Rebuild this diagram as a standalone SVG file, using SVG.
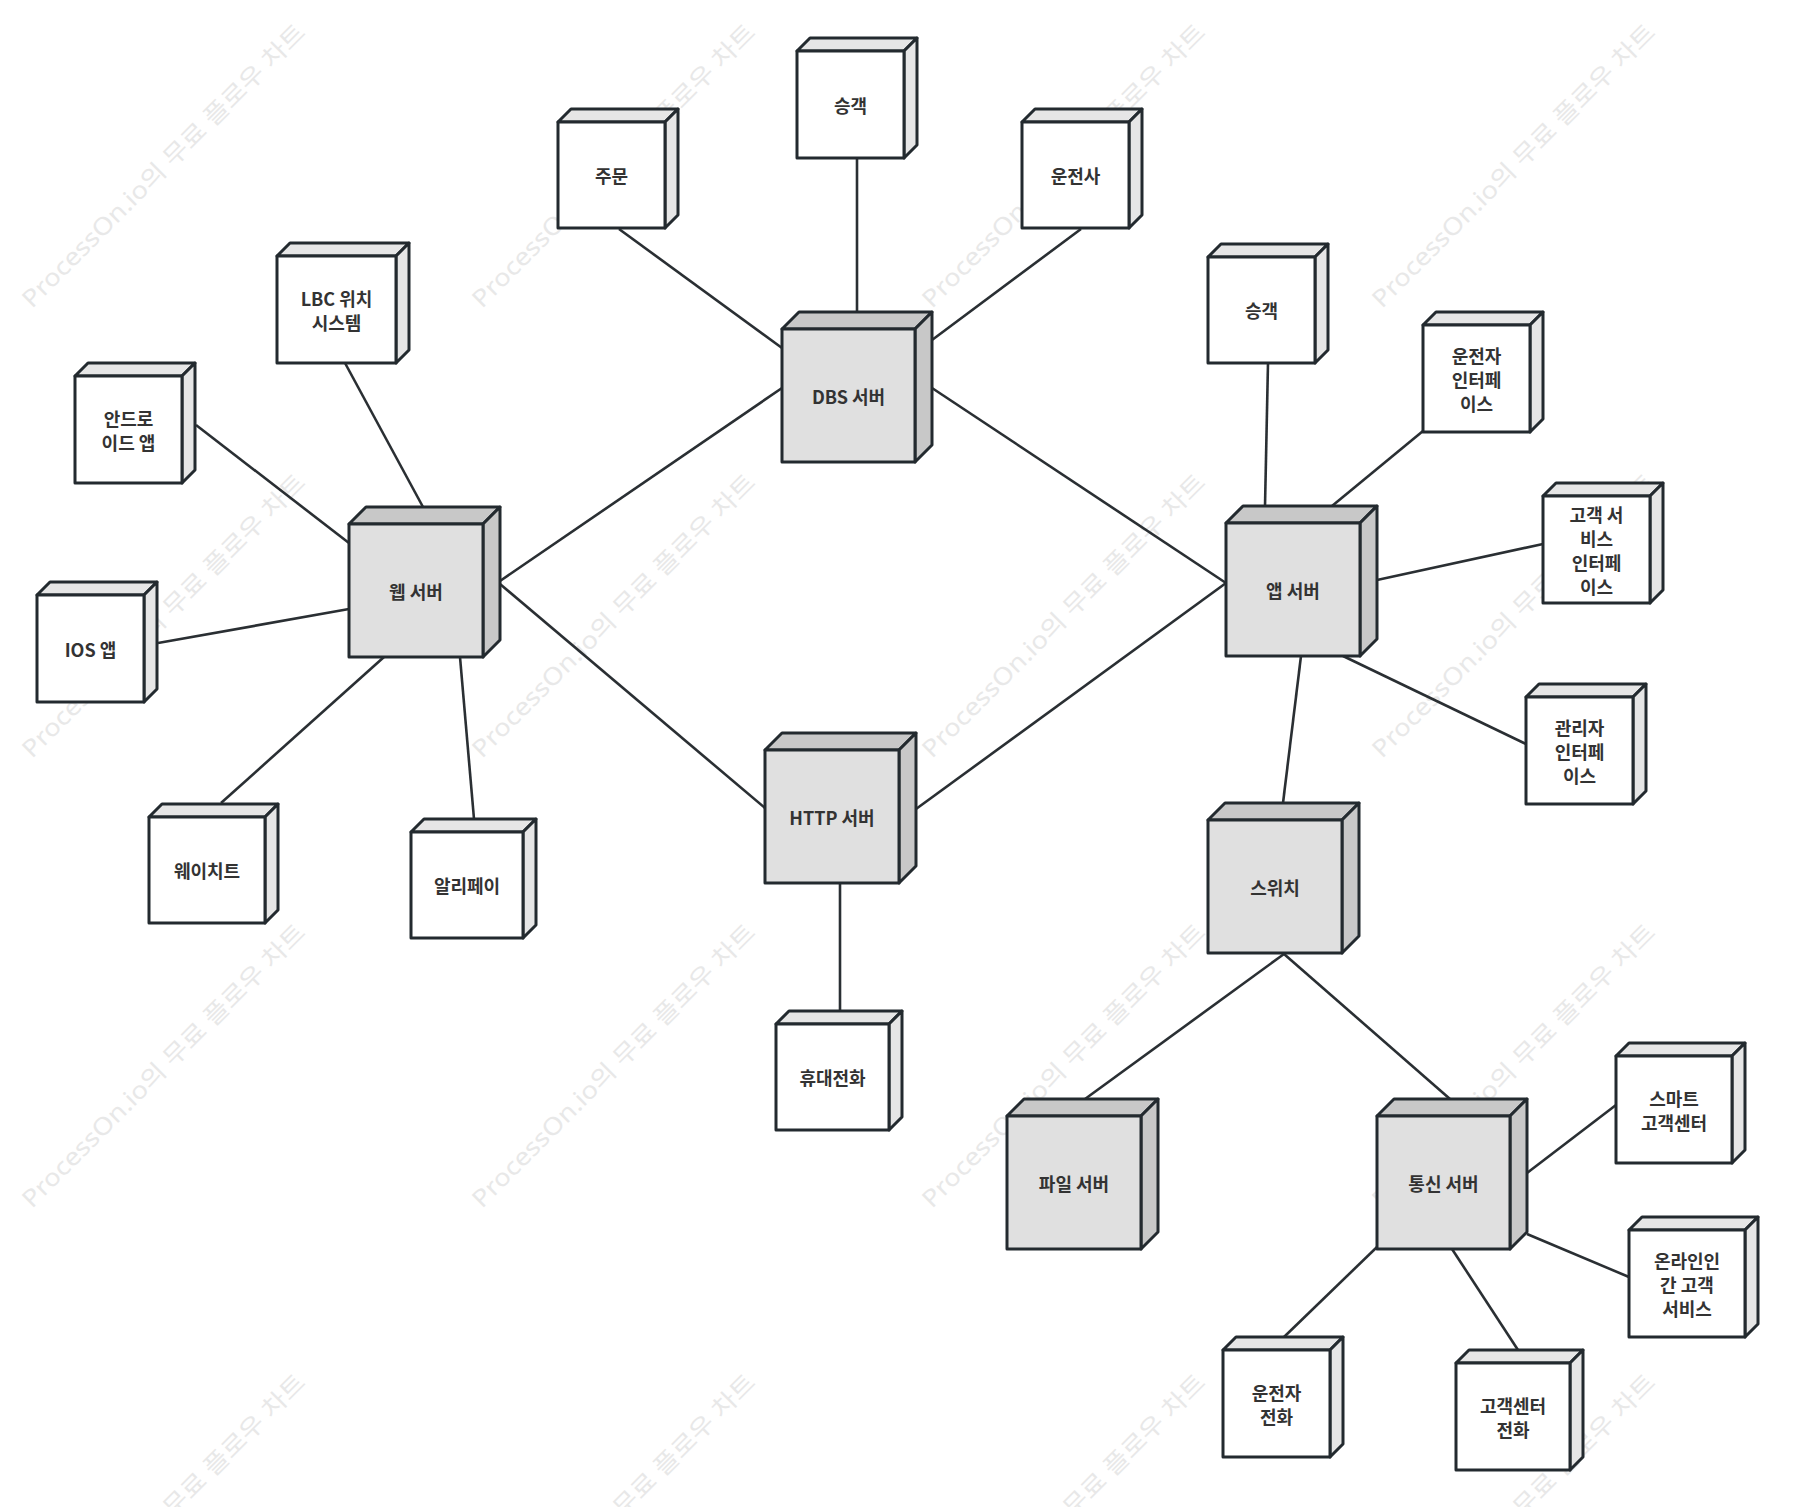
<svg xmlns="http://www.w3.org/2000/svg" width="1796" height="1507" viewBox="0 0 1796 1507">
<style>
.wm{font-family:"Noto Sans","Noto Sans CJK KR",sans-serif;font-size:24px;fill:#e8e8e8;}
.c line{stroke:#2a2f33;stroke-width:2.6;fill:none;}
.n rect,.n polygon{stroke:#232a2f;stroke-width:3;stroke-linejoin:round;}
.s .f{fill:#e0e0e0;} .s .t{fill:#c8c8c8;}
.p .f{fill:#ffffff;} .p .t{fill:#e6e6e6;}
.n text{font-family:"Noto Sans CJK KR","Noto Sans",sans-serif;font-size:18px;font-weight:bold;fill:#333333;text-anchor:middle;dominant-baseline:central;}
</style>
<rect width="1796" height="1507" fill="#ffffff"/>
<g id="watermark">
<text class="wm" transform="translate(32,309) rotate(-45)" textLength="389" lengthAdjust="spacingAndGlyphs">ProcessOn.io의 무료 플로우 차트</text>
<text class="wm" transform="translate(482,309) rotate(-45)" textLength="389" lengthAdjust="spacingAndGlyphs">ProcessOn.io의 무료 플로우 차트</text>
<text class="wm" transform="translate(932,309) rotate(-45)" textLength="389" lengthAdjust="spacingAndGlyphs">ProcessOn.io의 무료 플로우 차트</text>
<text class="wm" transform="translate(1382,309) rotate(-45)" textLength="389" lengthAdjust="spacingAndGlyphs">ProcessOn.io의 무료 플로우 차트</text>
<text class="wm" transform="translate(32,759) rotate(-45)" textLength="389" lengthAdjust="spacingAndGlyphs">ProcessOn.io의 무료 플로우 차트</text>
<text class="wm" transform="translate(482,759) rotate(-45)" textLength="389" lengthAdjust="spacingAndGlyphs">ProcessOn.io의 무료 플로우 차트</text>
<text class="wm" transform="translate(932,759) rotate(-45)" textLength="389" lengthAdjust="spacingAndGlyphs">ProcessOn.io의 무료 플로우 차트</text>
<text class="wm" transform="translate(1382,759) rotate(-45)" textLength="389" lengthAdjust="spacingAndGlyphs">ProcessOn.io의 무료 플로우 차트</text>
<text class="wm" transform="translate(32,1209) rotate(-45)" textLength="389" lengthAdjust="spacingAndGlyphs">ProcessOn.io의 무료 플로우 차트</text>
<text class="wm" transform="translate(482,1209) rotate(-45)" textLength="389" lengthAdjust="spacingAndGlyphs">ProcessOn.io의 무료 플로우 차트</text>
<text class="wm" transform="translate(932,1209) rotate(-45)" textLength="389" lengthAdjust="spacingAndGlyphs">ProcessOn.io의 무료 플로우 차트</text>
<text class="wm" transform="translate(1382,1209) rotate(-45)" textLength="389" lengthAdjust="spacingAndGlyphs">ProcessOn.io의 무료 플로우 차트</text>
<text class="wm" transform="translate(32,1659) rotate(-45)" textLength="389" lengthAdjust="spacingAndGlyphs">ProcessOn.io의 무료 플로우 차트</text>
<text class="wm" transform="translate(482,1659) rotate(-45)" textLength="389" lengthAdjust="spacingAndGlyphs">ProcessOn.io의 무료 플로우 차트</text>
<text class="wm" transform="translate(932,1659) rotate(-45)" textLength="389" lengthAdjust="spacingAndGlyphs">ProcessOn.io의 무료 플로우 차트</text>
<text class="wm" transform="translate(1382,1659) rotate(-45)" textLength="389" lengthAdjust="spacingAndGlyphs">ProcessOn.io의 무료 플로우 차트</text>
</g>
<g id="connectors" class="c">
<line x1="619" y1="229" x2="782" y2="348"/>
<line x1="857" y1="158" x2="857" y2="312"/>
<line x1="1081" y1="229" x2="932" y2="340"/>
<line x1="782" y1="388" x2="500" y2="581"/>
<line x1="932" y1="388" x2="1226" y2="583"/>
<line x1="500" y1="584" x2="765" y2="808"/>
<line x1="916" y1="809" x2="1226" y2="583"/>
<line x1="840" y1="884" x2="840" y2="1011"/>
<line x1="345" y1="363" x2="423" y2="507"/>
<line x1="196" y1="425" x2="349" y2="543"/>
<line x1="158" y1="643" x2="349" y2="609"/>
<line x1="384" y1="657" x2="221" y2="803"/>
<line x1="460" y1="657" x2="474" y2="819"/>
<line x1="1268" y1="363" x2="1265" y2="506"/>
<line x1="1423" y1="431" x2="1332" y2="506"/>
<line x1="1543" y1="544" x2="1377" y2="580"/>
<line x1="1526" y1="744" x2="1343" y2="656"/>
<line x1="1301" y1="656" x2="1283" y2="803"/>
<line x1="1284" y1="954" x2="1085" y2="1099"/>
<line x1="1284" y1="954" x2="1450" y2="1099"/>
<line x1="1527" y1="1173" x2="1616" y2="1105"/>
<line x1="1527" y1="1234" x2="1629" y2="1277"/>
<line x1="1377" y1="1247" x2="1284" y2="1337"/>
<line x1="1452" y1="1249" x2="1518" y2="1350"/>
</g>
<g id="order" class="n p"><polygon class="t" points="558,122 571,109 678,109 665,122"/><polygon class="t" points="665,122 678,109 678,215 665,228"/><rect class="f" x="558" y="122" width="107" height="106"/><text x="611.5" y="175">주문</text></g>
<g id="passenger-top" class="n p"><polygon class="t" points="797,51 810,38 917,38 904,51"/><polygon class="t" points="904,51 917,38 917,145 904,158"/><rect class="f" x="797" y="51" width="107" height="107"/><text x="850.5" y="104.5">승객</text></g>
<g id="driver" class="n p"><polygon class="t" points="1022,122 1035,109 1142,109 1129,122"/><polygon class="t" points="1129,122 1142,109 1142,215 1129,228"/><rect class="f" x="1022" y="122" width="107" height="106"/><text x="1075.5" y="175">운전사</text></g>
<g id="dbs-server" class="n s"><polygon class="t" points="782,329 799,312 932,312 915,329"/><polygon class="t" points="915,329 932,312 932,445 915,462"/><rect class="f" x="782" y="329" width="133" height="133"/><text x="848.5" y="395.5">DBS 서버</text></g>
<g id="lbc" class="n p"><polygon class="t" points="277,256 290,243 409,243 396,256"/><polygon class="t" points="396,256 409,243 409,350 396,363"/><rect class="f" x="277" y="256" width="119" height="107"/><text x="336.5" y="297.5">LBC 위치</text><text x="336.5" y="321.5">시스템</text></g>
<g id="android" class="n p"><polygon class="t" points="75,376 88,363 195,363 182,376"/><polygon class="t" points="182,376 195,363 195,470 182,483"/><rect class="f" x="75" y="376" width="107" height="107"/><text x="128.5" y="417.5">안드로</text><text x="128.5" y="441.5">이드 앱</text></g>
<g id="ios" class="n p"><polygon class="t" points="37,595 50,582 157,582 144,595"/><polygon class="t" points="144,595 157,582 157,689 144,702"/><rect class="f" x="37" y="595" width="107" height="107"/><text x="90.5" y="648.5">IOS 앱</text></g>
<g id="web-server" class="n s"><polygon class="t" points="349,524 366,507 500,507 483,524"/><polygon class="t" points="483,524 500,507 500,640 483,657"/><rect class="f" x="349" y="524" width="134" height="133"/><text x="416" y="590.5">웹 서버</text></g>
<g id="wechat" class="n p"><polygon class="t" points="149,817 162,804 278,804 265,817"/><polygon class="t" points="265,817 278,804 278,910 265,923"/><rect class="f" x="149" y="817" width="116" height="106"/><text x="207" y="870">웨이치트</text></g>
<g id="alipay" class="n p"><polygon class="t" points="411,832 424,819 536,819 523,832"/><polygon class="t" points="523,832 536,819 536,925 523,938"/><rect class="f" x="411" y="832" width="112" height="106"/><text x="467" y="885">알리페이</text></g>
<g id="http-server" class="n s"><polygon class="t" points="765,750 782,733 916,733 899,750"/><polygon class="t" points="899,750 916,733 916,866 899,883"/><rect class="f" x="765" y="750" width="134" height="133"/><text x="832" y="816.5">HTTP 서버</text></g>
<g id="mobile" class="n p"><polygon class="t" points="776,1024 789,1011 902,1011 889,1024"/><polygon class="t" points="889,1024 902,1011 902,1117 889,1130"/><rect class="f" x="776" y="1024" width="113" height="106"/><text x="832.5" y="1077">휴대전화</text></g>
<g id="passenger-right" class="n p"><polygon class="t" points="1208,257 1221,244 1328,244 1315,257"/><polygon class="t" points="1315,257 1328,244 1328,350 1315,363"/><rect class="f" x="1208" y="257" width="107" height="106"/><text x="1261.5" y="310">승객</text></g>
<g id="driver-if" class="n p"><polygon class="t" points="1423,325 1436,312 1543,312 1530,325"/><polygon class="t" points="1530,325 1543,312 1543,419 1530,432"/><rect class="f" x="1423" y="325" width="107" height="107"/><text x="1476.5" y="354.5">운전자</text><text x="1476.5" y="378.5">인터페</text><text x="1476.5" y="402.5">이스</text></g>
<g id="cs-if" class="n p"><polygon class="t" points="1543,496 1556,483 1663,483 1650,496"/><polygon class="t" points="1650,496 1663,483 1663,590 1650,603"/><rect class="f" x="1543" y="496" width="107" height="107"/><text x="1596.5" y="513.5">고객 서</text><text x="1596.5" y="537.5">비스</text><text x="1596.5" y="561.5">인터페</text><text x="1596.5" y="585.5">이스</text></g>
<g id="app-server" class="n s"><polygon class="t" points="1226,523 1243,506 1377,506 1360,523"/><polygon class="t" points="1360,523 1377,506 1377,639 1360,656"/><rect class="f" x="1226" y="523" width="134" height="133"/><text x="1293" y="589.5">앱 서버</text></g>
<g id="admin-if" class="n p"><polygon class="t" points="1526,697 1539,684 1646,684 1633,697"/><polygon class="t" points="1633,697 1646,684 1646,791 1633,804"/><rect class="f" x="1526" y="697" width="107" height="107"/><text x="1579.5" y="726.5">관리자</text><text x="1579.5" y="750.5">인터페</text><text x="1579.5" y="774.5">이스</text></g>
<g id="switch" class="n s"><polygon class="t" points="1208,820 1225,803 1359,803 1342,820"/><polygon class="t" points="1342,820 1359,803 1359,936 1342,953"/><rect class="f" x="1208" y="820" width="134" height="133"/><text x="1275" y="886.5">스위치</text></g>
<g id="file-server" class="n s"><polygon class="t" points="1007,1116 1024,1099 1158,1099 1141,1116"/><polygon class="t" points="1141,1116 1158,1099 1158,1232 1141,1249"/><rect class="f" x="1007" y="1116" width="134" height="133"/><text x="1074" y="1182.5">파일 서버</text></g>
<g id="comm-server" class="n s"><polygon class="t" points="1377,1116 1394,1099 1527,1099 1510,1116"/><polygon class="t" points="1510,1116 1527,1099 1527,1232 1510,1249"/><rect class="f" x="1377" y="1116" width="133" height="133"/><text x="1443.5" y="1182.5">통신 서버</text></g>
<g id="smart-cs" class="n p"><polygon class="t" points="1616,1056 1629,1043 1745,1043 1732,1056"/><polygon class="t" points="1732,1056 1745,1043 1745,1150 1732,1163"/><rect class="f" x="1616" y="1056" width="116" height="107"/><text x="1674" y="1097.5">스마트</text><text x="1674" y="1121.5">고객센터</text></g>
<g id="online-cs" class="n p"><polygon class="t" points="1629,1230 1642,1217 1758,1217 1745,1230"/><polygon class="t" points="1745,1230 1758,1217 1758,1324 1745,1337"/><rect class="f" x="1629" y="1230" width="116" height="107"/><text x="1687" y="1259.5">온라인인</text><text x="1687" y="1283.5">간 고객</text><text x="1687" y="1307.5">서비스</text></g>
<g id="driver-phone" class="n p"><polygon class="t" points="1223,1350 1236,1337 1343,1337 1330,1350"/><polygon class="t" points="1330,1350 1343,1337 1343,1444 1330,1457"/><rect class="f" x="1223" y="1350" width="107" height="107"/><text x="1276.5" y="1391.5">운전자</text><text x="1276.5" y="1415.5">전화</text></g>
<g id="cs-phone" class="n p"><polygon class="t" points="1456,1363 1469,1350 1583,1350 1570,1363"/><polygon class="t" points="1570,1363 1583,1350 1583,1457 1570,1470"/><rect class="f" x="1456" y="1363" width="114" height="107"/><text x="1513" y="1404.5">고객센터</text><text x="1513" y="1428.5">전화</text></g>
</svg>
